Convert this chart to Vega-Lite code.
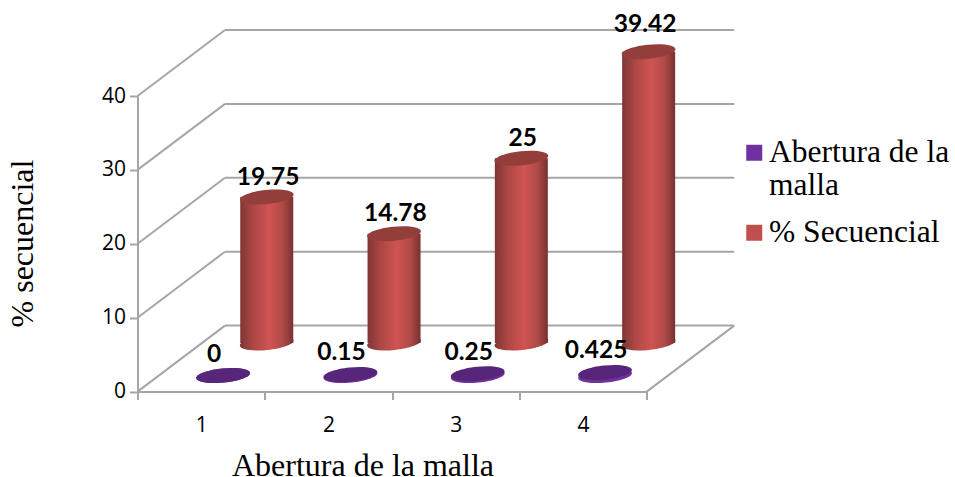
{
  "$schema": "https://vega.github.io/schema/vega-lite/v6.json",
  "autosize": "none",
  "width": 509.2,
  "height": 295.6,
  "padding": {"left": 137.5, "top": 96, "right": 308.3, "bottom": 85.4},
  "background": "white",
  "config": {"view": {"stroke": null}},
  "datasets": {
    "malla": [
      {"abertura_mm": 1, "abertura": 0, "secuencial": 19.75},
      {"abertura_mm": 2, "abertura": 0.15, "secuencial": 14.78},
      {"abertura_mm": 3, "abertura": 0.25, "secuencial": 25},
      {"abertura_mm": 4, "abertura": 0.425, "secuencial": 39.42}
    ],
    "niveles": [{"v": 0}, {"v": 10}, {"v": 20}, {"v": 30}, {"v": 40}]
  },
  "encoding": {
    "x": {
      "type": "quantitative",
      "scale": {"domain": [0.5, 4.5], "nice": false, "zero": false, "padding": 0},
      "axis": {
        "values": [0.5, 1, 1.5, 2, 2.5, 3, 3.5, 4, 4.5],
        "labelExpr": "datum.value % 1 === 0 ? format(datum.value, 'd') : ''",
        "tickOpacity": {"condition": {"test": "datum.value % 1 === 0", "value": 0}, "value": 1},
        "grid": false,
        "domainColor": "#a6a6a6",
        "domainWidth": 2,
        "tickColor": "#a6a6a6",
        "tickWidth": 2,
        "tickSize": 8,
        "labelFont": "Open Sans",
        "labelFontSize": 21,
        "labelColor": "#000000",
        "labelPadding": 15,
        "labelOverlap": false,
        "title": "Abertura de la malla",
        "titleFont": "Liberation Serif",
        "titleFontSize": 32,
        "titleFontWeight": "normal",
        "titleColor": "#000000",
        "titleX": 225,
        "titleY": 73.4,
        "titleAnchor": "middle",
        "titleAlign": "center",
        "titleBaseline": "middle"
      }
    },
    "y": {
      "type": "quantitative",
      "scale": {"domain": [0, 40], "nice": false},
      "axis": {
        "values": [0, 10, 20, 30, 40],
        "grid": false,
        "domainColor": "#a6a6a6",
        "domainWidth": 2,
        "tickColor": "#a6a6a6",
        "tickWidth": 2,
        "tickSize": 8,
        "labelFont": "Open Sans",
        "labelFontSize": 21,
        "labelColor": "#000000",
        "labelPadding": 4,
        "title": "% secuencial",
        "titleFont": "Liberation Serif",
        "titleFontSize": 32,
        "titleFontWeight": "normal",
        "titleColor": "#000000",
        "titleX": -115,
        "titleY": 147,
        "titleAngle": -90,
        "titleAlign": "center",
        "titleBaseline": "middle"
      }
    }
  },
  "layer": [
    {
      "data": {"name": "niveles"},
      "mark": {"type": "rule", "color": "#a6a6a6", "strokeWidth": 2, "x2Offset": 87.5, "y2Offset": -66},
      "encoding": {
        "x": {"datum": 0.5},
        "x2": {"datum": 0.5},
        "y": {"field": "v"},
        "y2": {"field": "v"}
      }
    },
    {
      "data": {"name": "niveles"},
      "mark": {"type": "rule", "color": "#a6a6a6", "strokeWidth": 2, "xOffset": 87.5, "x2Offset": 87.5, "yOffset": -66},
      "encoding": {
        "x": {"datum": 0.5},
        "x2": {"datum": 4.5},
        "y": {"field": "v"}
      }
    },
    {
      "data": {"values": [{"v": 0}]},
      "mark": {"type": "rule", "color": "#a6a6a6", "strokeWidth": 2, "x2Offset": 87.5, "y2Offset": -66},
      "encoding": {
        "x": {"datum": 4.5},
        "x2": {"datum": 4.5},
        "y": {"field": "v"},
        "y2": {"field": "v"}
      }
    },
    {
      "data": {"name": "malla"},
      "layer": [
        {
          "mark": {
            "type": "point", "filled": true, "opacity": 1, "size": 2916,
            "shape": "M-0.995,0.1A1,0.26,-5.7,1,0,0.995,-0.1A1,0.26,-5.7,1,0,-0.995,0.1Z",
            "xOffset": 22, "yOffset": -16
          },
          "encoding": {
            "x": {"field": "abertura_mm"},
            "y": {"datum": 0},
            "color": {
              "datum": "Abertura de la malla",
              "scale": {"domain": ["Abertura de la malla", "% Secuencial"], "range": ["#7030a0", "#c0504d"]},
              "legend": {
                "orient": "none",
                "legendX": 601,
                "legendY": 41,
                "title": null,
                "symbolType": "square",
                "symbolSize": 256,
                "symbolStrokeWidth": 0,
                "symbolOpacity": 1,
                "labelFont": "Liberation Serif",
                "labelFontSize": 31.5,
                "labelColor": "#000000",
                "labelLimit": 0,
                "labelOffset": -1,
                "rowPadding": 14,
                "labelExpr": "datum.label === 'Abertura de la malla' ? ['Abertura de la', 'malla'] : datum.label"
              }
            }
          }
        },
        {
          "mark": {
            "type": "point", "filled": true, "opacity": 1, "size": 2916, "color": "#57257a",
            "shape": "M-0.995,0.1A1,0.26,-5.7,1,0,0.995,-0.1A1,0.26,-5.7,1,0,-0.995,0.1Z",
            "xOffset": 22, "yOffset": -16
          },
          "encoding": {
            "x": {"field": "abertura_mm"},
            "y": {"field": "abertura"}
          }
        },
        {
          "mark": {
            "type": "point", "filled": true, "opacity": 1, "size": 2916,
            "shape": "M-0.995,0.1A1,0.26,-5.7,1,0,0.995,-0.1A1,0.26,-5.7,1,0,-0.995,0.1Z",
            "xOffset": 65.6, "yOffset": -48.6,
            "color": {
              "gradient": "linear", "x1": 0, "x2": 1, "y1": 0, "y2": 0,
              "stops": [
                {"offset": 0, "color": "#7f3634"},
                {"offset": 0.25, "color": "#ad4745"},
                {"offset": 0.55, "color": "#cf5452"},
                {"offset": 0.8, "color": "#b04a47"},
                {"offset": 1, "color": "#773230"}
              ]
            }
          },
          "encoding": {
            "x": {"field": "abertura_mm"},
            "y": {"datum": 0}
          }
        },
        {
          "mark": {
            "type": "bar", "size": 53,
            "xOffset": 65.6, "yOffset": -48.6, "y2Offset": -48.6,
            "color": {
              "gradient": "linear", "x1": 0, "x2": 1, "y1": 0, "y2": 0,
              "stops": [
                {"offset": 0, "color": "#7f3634"},
                {"offset": 0.25, "color": "#ad4745"},
                {"offset": 0.55, "color": "#cf5452"},
                {"offset": 0.8, "color": "#b04a47"},
                {"offset": 1, "color": "#773230"}
              ]
            }
          },
          "encoding": {
            "x": {"field": "abertura_mm"},
            "y": {"field": "secuencial", "stack": null},
            "y2": {"datum": 0}
          }
        },
        {
          "mark": {
            "type": "point", "filled": true, "opacity": 1, "size": 2916, "color": "#943e3c",
            "shape": "M-0.995,0.1A1,0.26,-5.7,1,0,0.995,-0.1A1,0.26,-5.7,1,0,-0.995,0.1Z",
            "xOffset": 65.6, "yOffset": -48.6
          },
          "encoding": {
            "x": {"field": "abertura_mm"},
            "y": {"field": "secuencial"}
          }
        },
        {
          "mark": {"type": "text", "font": "Lato", "fontWeight": "bold", "fontSize": 24.5, "color": "#000000", "xOffset": 13, "yOffset": -37},
          "encoding": {
            "x": {"field": "abertura_mm"},
            "y": {"field": "abertura"},
            "text": {"field": "abertura", "type": "quantitative"}
          }
        },
        {
          "transform": [{"filter": "datum.secuencial < 39"}],
          "mark": {"type": "text", "font": "Lato", "fontWeight": "bold", "fontSize": 24.5, "color": "#000000", "xOffset": 67, "yOffset": -68},
          "encoding": {
            "x": {"field": "abertura_mm"},
            "y": {"field": "secuencial"},
            "text": {"field": "secuencial", "type": "quantitative"}
          }
        },
        {
          "transform": [{"filter": "datum.secuencial >= 39"}],
          "mark": {"type": "text", "font": "Lato", "fontWeight": "bold", "fontSize": 24.5, "color": "#000000", "xOffset": 62, "yOffset": -75},
          "encoding": {
            "x": {"field": "abertura_mm"},
            "y": {"field": "secuencial"},
            "text": {"field": "secuencial", "type": "quantitative"}
          }
        }
      ]
    }
  ]
}
